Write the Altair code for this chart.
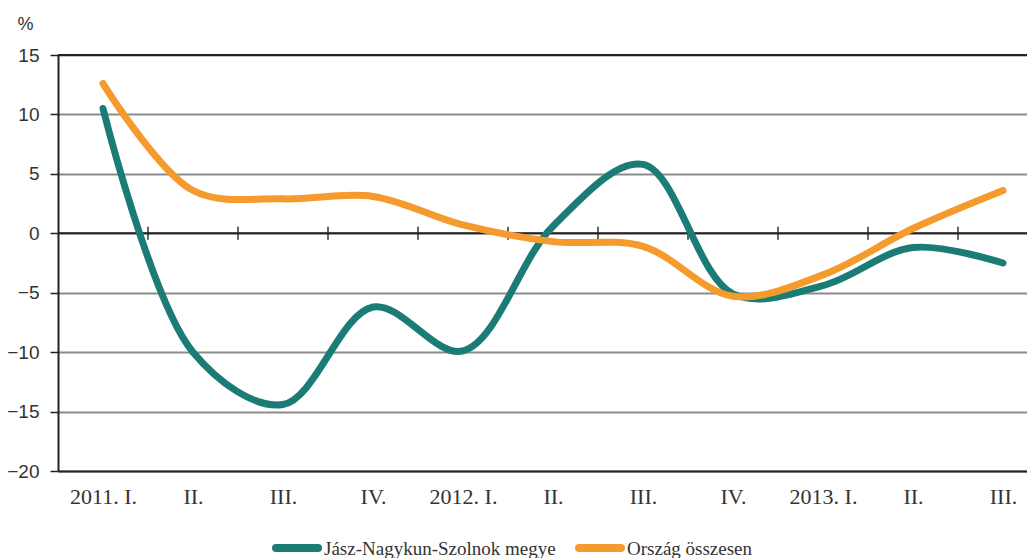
import altair as alt
import pandas as pd

quarters = ["2011. I.", "II.", "III.", "IV.", "2012. I.", "II.", "III.", "IV.",
            "2013. I.", "II.", "III."]
series_names = ["Jász-Nagykun-Szolnok megye", "Ország összesen"]
county = [10.5, -10.0, -14.4, -6.2, -9.9, 0.6, 5.8, -5.1, -4.4, -1.2, -2.5]
country = [12.6, 3.6, 2.9, 3.1, 0.7, -0.7, -1.1, -5.3, -3.5, 0.4, 3.6]
colors = ["#1b7c76", "#f59b2d"]
y_ticks = [15, 10, 5, 0, -5, -10, -15, -20]
black_lines = [0, 15]

rows = []
for i, q in enumerate(quarters):
    rows.append({"idx": i, "q": q, "series": series_names[0], "v": county[i]})
    rows.append({"idx": i, "q": q, "series": series_names[1], "v": country[i]})
df = pd.DataFrame(rows)

tick_df = pd.DataFrame({"pos": [i + 0.5 for i in range(len(quarters) - 1)], "zero": 0})
rule_df = pd.DataFrame({"y": black_lines})

label_expr = "[" + ",".join("'" + q + "'" for q in quarters) + "][datum.value]"

xscale = alt.Scale(domain=[-0.5, 10.267], nice=False, zero=False)
yscale = alt.Scale(domain=[-20, 15], nice=False, zero=False)

lines = alt.Chart(df).mark_line(interpolate="catmull-rom", strokeWidth=7, strokeCap="round").encode(
    x=alt.X("idx:Q", scale=xscale,
            axis=alt.Axis(values=list(range(len(quarters))), labelExpr=label_expr, title=None,
                          grid=False, ticks=False, domain=True, domainColor="#222",
                          domainWidth=2, labelFont="Liberation Serif", labelFontSize=22,
                          labelColor="#333", labelPadding=15, labelFlush=False)),
    y=alt.Y("v:Q", scale=yscale,
            axis=alt.Axis(values=y_ticks, title="%", titleAngle=0, titleX=-33, titleY=-31,
                          titleFont="Liberation Sans", titleFontSize=18, titleFontWeight="normal",
                          titleColor="#333", titleAlign="center", titleBaseline="middle",
                          grid=True, gridColor="#8c8c8c", gridWidth=2,
                          domain=True, domainColor="#222", domainWidth=2,
                          ticks=True, tickSize=8, tickColor="#222", tickWidth=1.5,
                          labelFont="Liberation Sans", labelFontSize=19, labelColor="#333",
                          labelPadding=11)),
    color=alt.Color("series:N", scale=alt.Scale(domain=series_names, range=colors), legend=None),
)

rules = alt.Chart(rule_df).mark_rule(color="#222", strokeWidth=2).encode(
    y=alt.Y("y:Q", scale=yscale)
)

ticks = alt.Chart(tick_df).mark_tick(color="#222", thickness=2, size=13, orient="vertical").encode(
    x=alt.X("pos:Q", scale=xscale),
    y=alt.Y("zero:Q", scale=yscale),
)

# manual legend (one layer per entry)
legend_layers = []
legend_x = [218, 521]
for name, col, lx in zip(series_names, colors, legend_x):
    ldf = pd.DataFrame({"series": [name]})
    sym = alt.Chart(ldf).mark_rule(color=col, strokeWidth=8, strokeCap="round").encode(
        x=alt.value(lx), x2=alt.value(lx + 42), y=alt.value(493)
    )
    txt = alt.Chart(ldf).mark_text(align="left", baseline="middle", font="Liberation Serif",
                                   fontSize=19, color="#333").encode(
        text="series:N", x=alt.value(lx + 48), y=alt.value(494)
    )
    legend_layers += [sym, txt]

chart = alt.layer(rules, ticks, lines, *legend_layers).properties(
    width=969, height=416,
    autosize=alt.AutoSizeParams(type="none"),
    padding={"left": 50, "top": 47, "right": 0, "bottom": 87},
).configure_view(strokeWidth=0).configure(background="white")

chart.save("out.html", embed_options={"renderer": "svg", "actions": False})
